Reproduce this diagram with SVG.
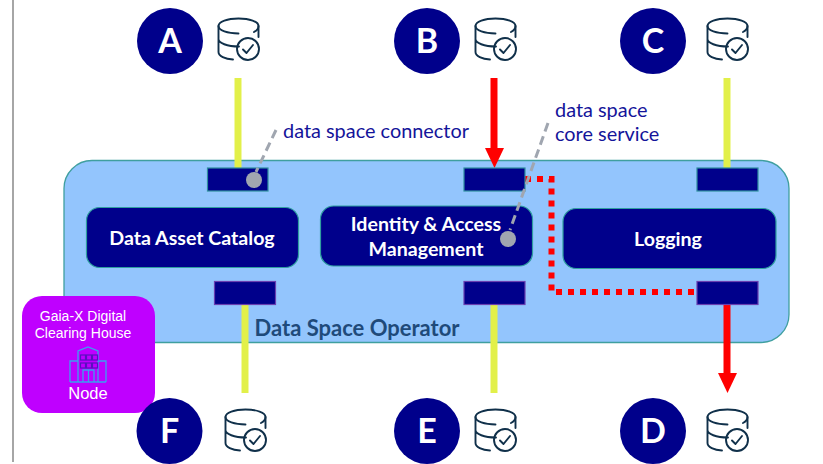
<svg xmlns="http://www.w3.org/2000/svg" width="823" height="464" viewBox="0 0 823 464">
<style>
text{font-family:Lato,"Liberation Sans",sans-serif}
.letter{font-size:34px;font-weight:700;fill:#fff;text-anchor:middle}
.circle{fill:#00008b}
.port{fill:#00008b;stroke:#2f8f9f;stroke-width:1.2}
.portb{fill:#00008b;stroke:#6a3fb0;stroke-width:1.2}
.box{fill:#00008b;stroke:#2f9f9f;stroke-width:1.2}
.boxt{font-size:19.600px;font-weight:700;fill:#fff;text-anchor:middle}
.lab{font-size:19.900px;fill:#14149a}
.yl{stroke:#e2f04a;stroke-width:7;fill:none}
.rd{stroke:#ff0000;stroke-width:7;fill:none}
.lead{stroke:#a0a6b0;stroke-width:3;stroke-dasharray:9 5;fill:none}
.pin{fill:#a0a6b0}
.db{fill:none;stroke:#10304a;stroke-width:1.9;stroke-linecap:round;stroke-linejoin:round}
.wt{fill:#fff;text-anchor:middle;font-family:"Liberation Sans",Arial,sans-serif}
</style>
<defs>
<g id="db">
<path class="db" d="M36 14C39 12.500 40.500 10.500 40.500 8C40.500 3.500 31.500 .5 20.500 .5S.5 3.500 .5 8S9.500 15.500 20.500 15.500"/>
<path class="db" d="M.5 8V34C.5 38 7 41 15 41.500M.5 21C.5 25 9 28.500 21 28.500M40.500 8V19"/>
<circle cx="30" cy="31" r="11" class="db"/>
<path class="db" d="M25 31.500L28.500 35L35 27"/>
</g>
</defs>
<path d="M13 0V462" stroke="#a6a6a6" stroke-width="2" fill="none"/>
<rect id="operator" x="64" y="160.500" width="725" height="182" rx="28" fill="#93c5fd" stroke="#3f9f9f" stroke-width="1.300"/>
<text x="357" y="336" font-size="22" font-weight="700" fill="#1f4a7a" text-anchor="middle">Data Space Operator</text>

<g id="connectors">
<path class="yl" d="M238 78V168"/>
<path class="yl" d="M245 304V393"/>
<path class="yl" d="M494 304V393"/>
<path class="yl" d="M727 78V168"/>
<path class="rd" d="M494 78V149"/>
<path d="M485 148H504L494.500 168Z" fill="#ff0000"/>
<path class="rd" d="M727 304V374"/>
<path d="M718 373H737L727.500 393Z" fill="#ff0000"/>
<path d="M525 179H551.500V292H697" fill="none" stroke="#ff0000" stroke-width="6" stroke-dasharray="6 6"/>
</g>

<g id="port-a"><rect class="port" x="207.500" y="168" width="60.500" height="23"/></g>
<g id="port-b"><rect class="port" x="464" y="168" width="61" height="23"/></g>
<g id="port-c"><rect class="port" x="697" y="168" width="61" height="23"/></g>
<g id="port-f"><rect class="portb" x="214.500" y="281.500" width="61" height="23"/></g>
<g id="port-e"><rect class="portb" x="464" y="281.500" width="61" height="23"/></g>
<g id="port-d"><rect class="portb" x="697" y="281.500" width="61" height="23"/></g>

<g id="catalog"><rect class="box" x="86.500" y="207.500" width="212" height="60" rx="13"/><text class="boxt" x="192" y="245">Data Asset Catalog</text></g>
<g id="iam"><rect class="box" x="320.500" y="206" width="212" height="60" rx="13"/><text class="boxt" x="426" y="231">Identity &amp; Access</text><text class="boxt" x="426" y="256">Management</text></g>
<g id="logging"><rect class="box" x="563" y="208.500" width="213" height="60" rx="13"/><text class="boxt" x="668" y="246">Logging</text></g>

<g id="leader-connector"><path class="lead" d="M276 130L256 172"/><circle class="pin" cx="254" cy="180" r="8"/></g>
<g id="leader-core"><path class="lead" d="M548 123L510 230"/><circle class="pin" cx="508" cy="239" r="8"/></g>
<text class="lab" x="283" y="138">data space connector</text>
<text class="lab" x="555" y="117">data space</text>
<text class="lab" x="555" y="141">core service</text>

<g id="clearing-house">
<rect x="22" y="296" width="133" height="117" rx="20" fill="#bf00ff"/>
<text class="wt" x="83" y="321" font-size="14">Gaia-X Digital</text>
<text class="wt" x="83" y="338" font-size="14">Clearing House</text>
<g fill="none" stroke="#3aa0f0" stroke-width="1.300"><path d="M70 382V361H78M78 382V351L88 347L98 351V382M98 361H106V382M70 382H106M83 382V370H94V382M88.500 370V382"/></g>
<g fill="none" stroke="#5a10c0" stroke-width="1.200"><rect x="80.500" y="355" width="5" height="5"/><rect x="86.500" y="355" width="5" height="5"/><rect x="92.500" y="355" width="5" height="5"/><rect x="80.500" y="363" width="5" height="5"/><rect x="86.500" y="363" width="5" height="5"/><rect x="92.500" y="363" width="5" height="5"/></g>
<text class="wt" x="88" y="399" font-size="16.500">Node</text>
</g>

<g id="node-a"><circle class="circle" cx="170" cy="41" r="33"/><text class="letter" x="170" y="53">A</text><use href="#db" x="218" y="18"/></g>
<g id="node-b"><circle class="circle" cx="427" cy="41" r="33"/><text class="letter" x="427" y="53">B</text><use href="#db" x="475" y="18"/></g>
<g id="node-c"><circle class="circle" cx="653" cy="41" r="33"/><text class="letter" x="653" y="53">C</text><use href="#db" x="707" y="18"/></g>
<g id="node-f"><circle class="circle" cx="169.500" cy="431" r="33"/><text class="letter" x="169.500" y="443">F</text><use href="#db" x="225" y="409"/></g>
<g id="node-e"><circle class="circle" cx="427" cy="431" r="33"/><text class="letter" x="427" y="443">E</text><use href="#db" x="475" y="409"/></g>
<g id="node-d"><circle class="circle" cx="653" cy="431" r="33"/><text class="letter" x="653" y="443">D</text><use href="#db" x="707" y="409"/></g>
</svg>
